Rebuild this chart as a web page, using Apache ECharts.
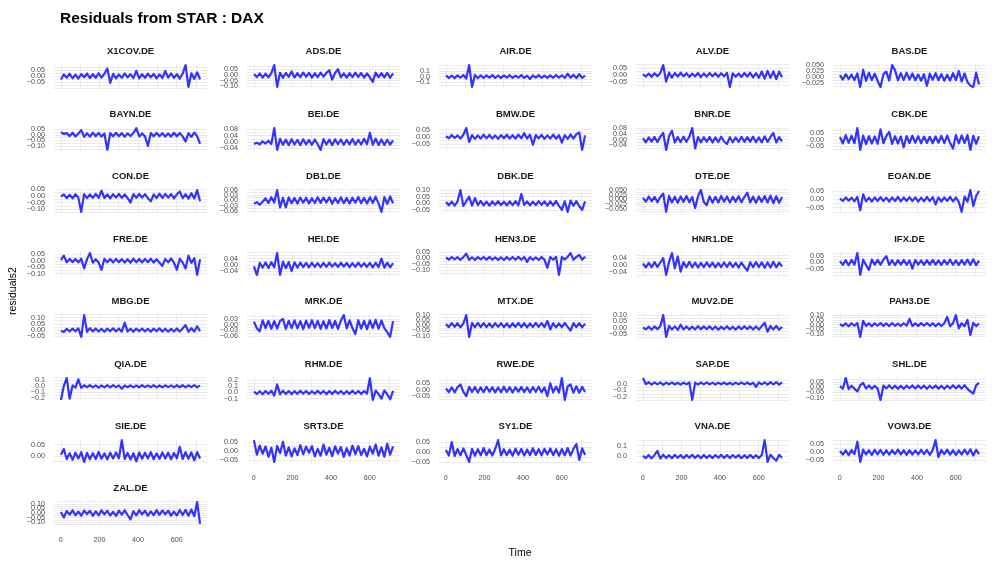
<!DOCTYPE html>
<html>
<head>
<meta charset="utf-8">
<style>
  html, body { margin: 0; padding: 0; background: #fff; }
  #chart { width: 997px; height: 570px; }
</style>
<script src="https://cdn.jsdelivr.net/npm/echarts@6/dist/echarts.min.js"></script>
</head>
<body>
<div id="chart"></div>
<script>
// facet labels, in panel order (5 per row)
const tickers = ["X1COV.DE","ADS.DE","AIR.DE","ALV.DE","BAS.DE","BAYN.DE","BEI.DE","BMW.DE","BNR.DE","CBK.DE",
  "CON.DE","DB1.DE","DBK.DE","DTE.DE","EOAN.DE","FRE.DE","HEI.DE","HEN3.DE","HNR1.DE","IFX.DE",
  "MBG.DE","MRK.DE","MTX.DE","MUV2.DE","PAH3.DE","QIA.DE","RHM.DE","RWE.DE","SAP.DE","SHL.DE",
  "SIE.DE","SRT3.DE","SY1.DE","VNA.DE","VOW3.DE","ZAL.DE"];

// sampled time index (one point every 15 observations)
const time = [1,16,31,46,61,76,91,106,121,136,151,166,181,196,211,226,241,256,271,286,301,316,331,346,361,
  376,391,406,421,436,451,466,481,496,511,526,541,556,571,586,601,616,631,646,661,676,691,706,721];

const xBreaks = [0, 200, 400, 600];
const xGrid = [0, 100, 200, 300, 400, 500, 600, 700];

// y tick labels shown on each panel (free y scales)
const yBreaks = [
  [-0.05,0,0.05], [-0.10,-0.05,0,0.05], [-0.1,0,0.1], [-0.05,0,0.05], [-0.025,0,0.025,0.05],
  [-0.10,-0.05,0,0.05], [-0.04,0,0.04,0.08], [-0.05,0,0.05], [-0.04,0,0.04,0.08], [-0.05,0,0.05],
  [-0.10,-0.05,0,0.05], [-0.06,-0.03,0,0.03,0.06], [-0.05,0,0.05,0.10], [-0.05,-0.025,0,0.025,0.05], [-0.05,0,0.05],
  [-0.10,-0.05,0,0.05], [-0.04,0,0.04], [-0.10,-0.05,0,0.05], [-0.04,0,0.04], [-0.05,0,0.05],
  [-0.05,0,0.05,0.10], [-0.06,-0.03,0,0.03], [-0.10,-0.05,0,0.05,0.10], [-0.05,0,0.05,0.10], [-0.10,-0.05,0,0.05,0.10],
  [-0.2,-0.1,0,0.1], [-0.1,0,0.1,0.2], [-0.05,0,0.05], [-0.2,-0.1,0], [-0.10,-0.05,0,0.05],
  [0,0.05], [-0.05,0,0.05], [-0.05,0,0.05], [0,0.1], [-0.05,0,0.05],
  [-0.10,-0.05,0,0.05,0.10]
];
const yDigits = [2,2,1,2,3, 2,2,2,2,2, 2,2,2,3,2, 2,2,2,2,2, 2,2,2,2,2, 1,1,2,1,2, 2,2,2,1,2, 2];

// residuals, one array per stock
const rX1COV = [-.030,.012,-.015,.018,-.020,.010,-.022, .015,-.012,.020,-.018,.014,-.016,.022,
  -.014,.018,.062,-.058,.016,-.020,.012, -.017,.021,-.013,.015,-.019,.042,-.021,
  .014,-.016,.019,-.012,.017,-.020,.013, -.018,.041,-.015,.020,-.017,.014,-.022,
  .018,.090,-.092,.021,-.025,.030,-.028];
const rADS = [.010,-.018,.015,-.022,.012,-.020,.016, .088,-.105,.020,-.024,.018,-.016,.032,
  -.021,.017,-.019,.022,-.015,.020,-.023, .016,-.018,.021,-.014,.019,.042,-.040,
  .018,.052,-.020,.015,-.022,.017,-.019, .021,-.016,.018,-.023,.014,-.020,-.060,
  .022,-.018,.016,-.021,.019,-.024,.015];
const rAIR = [.020,-.025,.018,-.030,.022,-.020,.028, -.035,.200,-.180,.030,-.028,.022,-.025,
  .020,-.018,.025,-.022,.019,-.026,.021, -.017,.024,-.023,.018,-.020,.026,-.024,
  .017,-.045,.022,-.019,.025,-.021,.018, -.024,.020,-.022,.028,-.018,.023,-.026,
  .050,-.020,.032,-.025,.040,-.022,.018];
const rALV = [.005,-.012,.010,-.014,.012,-.010,.015, .072,-.050,.018,-.020,.014,-.012,.016,
  -.011,.013,-.015,.010,-.012,.014,-.016, .011,-.013,.015,-.010,.012,-.014,.013,
  -.011,.015,-.088,.012,-.013,.010,-.015, .014,-.012,.016,-.018,.013,-.020,.025,
  -.028,.030,-.022,.026,-.030,.024,-.018];
const rBAS = [.008,-.010,.012,-.008,.010,-.012,.015, -.040,.030,-.015,.018,-.012,.014,-.016,
  -.040,.012,.022,-.014,.049,.028,-.013, .016,-.012,.018,-.010,.015,-.013,.011,
  -.015,.012,-.035,.014,-.011,.016,-.013, .012,-.015,.010,-.014,.016,-.012,.025,
  -.018,.015,-.020,-.035,-.040,.018,-.030];
const rBAYN = [.022,.008,.015,-.012,.018,-.015,.012, .042,-.018,.014,-.016,.020,-.013,.017,
  -.015,.012,-.135,.016,-.014,.018,-.012, .015,-.017,.013,-.011,.016,.060,-.015,
  .012,-.014,-.100,.015,-.012,.017,-.013, .014,-.016,.012,-.015,.018,-.013,.016,
  -.014,-.060,.015,-.018,.020,-.012,-.080];
const rBEI = [-.012,-.005,-.015,.004,-.010,.008,-.012, .088,-.050,.020,-.018,.015,-.020,.018,
  -.016,.014,-.019,.017,-.015,.013,-.018, .016,-.014,-.050,.018,-.016,.015,-.020,
  .017,-.013,.016,-.018,.014,-.015,.019, -.017,.013,-.016,.020,-.014,.058,-.018,
  .022,-.020,.016,-.019,.014,-.017,.010];
const rBMW = [.005,-.010,.012,-.008,.010,-.012,.014, .060,-.035,.012,-.014,.010,-.013,.015,
  -.011,.013,-.012,.010,-.014,.012,-.010, .014,-.012,.011,-.013,.015,-.010,.025,
  -.012,.014,-.055,.012,-.011,.013,-.014, .010,-.012,.015,-.013,.011,-.040,.012,
  -.014,.016,-.012,.018,.030,-.090,.010];
const rBNR = [.010,-.018,.015,-.014,.018,-.016,.020, .045,-.070,.022,.060,-.020,.018,-.017,
  .020,-.015,.019,.078,-.060,.017,-.019, .016,-.014,.018,-.020,.015,-.017,.019,
  -.013,-.030,.016,-.018,.014,-.016,.019, -.015,.017,-.014,.020,-.018,.015,-.019,
  .022,-.016,.018,.045,-.020,.017,-.012];
const rCBK = [.020,-.030,.035,-.025,.030,-.028,.090, -.080,.032,-.035,.028,-.030,.025,-.032,
  .080,-.028,.030,.060,-.033,.027,-.030, .025,-.060,.028,-.026,.031,-.024,.027,
  -.029,.024,-.026,.022,-.028,.025,-.024, .030,-.027,.032,-.025,-.070,.035,-.030,
  .033,-.028,.036,-.080,.030,-.032,.026];
const rCON = [-.005,.012,-.015,.010,-.018,.014,-.012, -.120,.015,-.016,.012,-.014,.017,-.013,
  .040,-.015,.013,-.017,.014,-.012,.016, -.014,.012,-.016,-.050,.015,-.013,.017,
  -.012,.014,-.016,-.040,.013,-.015,.018, -.014,.016,-.012,.015,-.017,.013,.035,
  -.016,.014,-.020,.022,-.018,.045,-.040];
const rDB1 = [-.020,-.010,-.025,-.008,.012,-.015,.018, -.012,.058,-.040,.015,-.040,.017,-.016,
  .014,-.018,.016,-.013,.015,-.017,.012, -.015,.018,-.014,.016,-.012,.017,-.019,
  .013,-.015,.018,-.016,.014,-.017,.015, -.013,.019,-.016,.014,-.018,.017,-.015,
  .020,-.018,-.065,.018,-.020,.022,-.016];
const rDBK = [.010,-.015,.012,-.018,.015,.100,-.020, .016,.050,-.017,.040,-.014,.018,-.015,
  .013,-.017,.015,-.012,.016,-.014,.012, -.016,.014,-.013,.017,-.015,.070,-.012,
  .015,-.016,.013,-.014,.017,-.012,.015, -.017,.014,-.016,.018,-.020,-.050,.015,
  -.065,.020,-.018,.016,-.022,-.050,.014];
const rDTE = [.008,-.012,.015,-.010,.013,-.015,.012, .030,-.065,.018,-.016,.014,-.018,.015,
  -.013,.017,-.015,.012,-.045,.016,.048, -.014,-.030,.015,-.017,.013,-.016,.018,
  -.012,.015,-.017,.014,-.013,.016,-.015, .012,.035,-.016,.014,-.018,.015,-.013,
  .017,-.016,.019,-.020,.016,-.018,.012];
const rEOAN = [.005,-.010,.012,-.008,.010,-.012,.014, -.065,.030,-.012,.010,-.014,.012,-.010,
  .013,-.011,.010,-.013,.012,-.010,.014, -.012,.011,-.010,.013,-.011,.012,-.014,
  .010,-.012,.014,-.011,.013,-.030,.011, -.013,.012,-.010,.014,-.012,.011,-.015,
  -.075,.016,-.014,.055,-.040,.020,.050];
const rFRE = [.005,.040,-.012,.015,-.010,.014,-.012, .016,-.060,.013,.060,-.015,.012,-.014,
  -.070,.016,-.012,.014,-.013,.015,-.011, .013,-.014,.012,-.015,.016,-.012,.014,
  -.013,.015,-.011,.017,-.014,.012,-.016, -.040,.015,-.012,.018,-.014,-.070,.016,
  -.015,-.060,.040,-.016,.020,-.110,.012];
const rHEI = [-.010,-.065,.012,-.018,.015,-.020,.017, -.016,.075,-.065,.020,-.022,.018,-.040,
  .016,-.018,.014,-.015,.012,-.016,.013, -.014,.011,-.015,.012,-.013,.014,-.012,
  .010,-.014,.013,-.011,.012,-.015,.011, -.013,.014,-.012,.010,-.014,.012,-.016,
  .013,-.015,.040,-.018,.014,-.016,.010];
const rHEN3 = [.008,-.010,.012,-.008,.010,-.012,.011, .040,-.012,.010,-.013,.011,-.009,.012,
  -.010,.013,-.011,.009,-.012,.010,-.013, .011,-.010,.012,-.011,.013,-.010,.012,
  -.030,.011,-.012,.010,-.013,.012,-.010, -.080,.012,-.011,.013,-.140,.012,-.010,
  .014,.045,-.012,.013,.030,-.011,.015];
const rHNR1 = [.008,-.015,.012,-.014,.016,-.012,.014, .040,-.060,.018,.070,-.020,.050,-.040,
  .016,-.014,.018,-.015,.013,-.016,.012, -.014,.015,-.012,.013,-.015,.011,-.013,
  .014,-.012,.015,-.013,.012,-.016,.014, -.012,-.035,.015,-.014,.016,-.013,.015,
  -.017,.014,-.016,.018,-.015,.013,-.010];
const rIFX = [.010,-.020,.018,-.022,.020,-.018,.075, -.100,.022,-.020,-.060,.024,-.018,.021,
  -.019,.023,.050,-.020,.018,-.022,.019, -.017,.021,-.019,.017,-.050,.020,-.018,
  .016,-.020,.019,-.017,.021,-.018,.016, -.020,.018,-.016,.022,-.019,.017,-.021,
  .019,-.018,.023,-.020,.026,-.022,.015];
const rMBG = [-.005,-.015,.010,-.012,.012,-.010,.014, -.055,.120,-.014,.015,-.011,.013,-.012,
  .010,-.013,.012,-.010,.014,-.011,.012, -.013,.060,-.012,.011,-.014,.012,-.010,
  .013,-.011,.010,-.013,.012,-.010,.014, -.012,.011,-.013,.010,-.012,.013,-.011,
  .012,.040,-.014,.015,-.012,.030,-.010];
const rMRK = [.015,-.020,-.035,.022,-.018,.020,-.022, .018,-.021,.019,.030,-.023,.020,-.019,
  .022,-.020,.018,-.024,.021,-.017,.023, -.019,.020,-.022,.018,-.021,.024,-.018,
  .019,-.023,.021,.050,-.020,.022,-.019, -.050,.023,-.021,.020,-.024,.022,-.018,
  .025,-.022,.021,-.019,-.040,-.065,.018];
const rMTX = [.010,-.018,.020,-.015,.018,-.020,.016, .095,-.110,.022,-.019,.021,-.017,.020,
  -.018,.016,-.021,.019,-.016,.020,-.018, .017,-.020,.018,-.015,.021,-.017,.019,
  -.020,.016,-.018,.022,-.016,.019,-.017, .040,-.040,.018,-.020,.017,-.019,.021,
  -.016,-.050,.020,-.018,.019,-.021,.015];
const rMUV2 = [.005,-.012,.010,-.014,.012,-.010,.014, .100,-.070,.016,-.013,.012,-.015,.025,
  -.012,.011,-.013,.010,-.012,.014,-.011, .012,-.010,.013,-.012,.011,-.014,.010,
  -.011,.013,-.012,.010,-.014,.012,-.011, .013,-.010,.012,-.013,.011,-.012,.014,
  .040,-.030,.015,-.012,.016,-.014,.010];
const rPAH3 = [.005,-.015,.012,-.018,.014,-.012,.016, -.130,.040,-.015,.013,-.017,.014,-.012,
  .016,-.014,.012,-.016,.015,-.013,.011, -.015,.014,-.012,.060,-.016,.013,-.014,
  .015,-.012,.016,-.013,.014,-.017,.012, -.015,.014,.080,-.016,.013,.100,-.040,
  .015,-.018,.050,-.110,.018,-.016,.012];
const rQIA = [-.230,.010,.140,-.210,.015,-.020,.120, -.025,.018,-.015,.020,-.018,.016,-.022,
  .015,-.017,.019,-.016,.022,-.014,.017, -.040,.016,-.015,.018,-.017,.014,-.016,
  .019,-.013,.017,-.015,.020,-.018,.015, -.016,.018,-.014,.016,-.017,.019,-.015,
  .020,-.016,.018,-.014,.022,-.017,.016];
const rRHM = [.015,-.025,.020,-.028,.022,-.020,.025, -.050,.130,-.030,.028,-.025,.022,-.027,
  .020,-.023,.026,-.021,.024,-.026,.019, -.022,.025,-.020,.023,-.027,.021,-.024,
  .026,-.019,.022,-.025,.020,-.023,.027, -.021,.024,-.026,.022,-.020,.230,-.120,
  .030,-.028,-.100,.032,-.030,-.110,.025];
const rRWE = [.010,-.020,.018,-.022,.020,.040,-.018, -.050,.022,-.019,.021,-.023,.018,-.020,
  .022,-.017,.019,-.021,.017,-.020,.023, -.018,.020,-.022,.019,-.016,.021,-.019,
  .018,-.022,.020,-.017,.023,-.020,.018, -.050,.050,-.021,.024,-.022,.090,-.080,
  .025,.040,-.023,.026,-.025,.022,-.018];
const rSAP = [.080,-.010,.020,-.015,.018,-.012,.016, -.018,.015,-.013,.017,-.014,.012,-.016,
  .015,-.012,.018,-.240,.014,-.015,.017, -.013,.016,-.012,.014,-.017,.013,-.011,
  .015,-.014,.012,-.016,.014,-.013,.017, -.012,.015,-.014,.012,-.050,.016,-.013,
  .018,-.015,.020,-.014,.022,-.016,.018];
const rSHL = [.010,-.015,.085,-.018,.012,-.014,-.040, .016,.040,-.013,.015,-.016,.012,-.014,
  -.120,.015,-.012,.017,-.014,.013,-.016, .012,-.015,.014,-.011,.016,-.013,.015,
  -.012,.014,-.016,.013,-.011,.015,-.014, .012,-.016,.014,-.013,.017,-.012,.015,
  -.014,.018,-.016,-.040,-.060,.016,.040];
const rSIE = [.005,.030,-.015,.012,-.018,.014,-.012, .016,-.027,.013,-.015,.012,-.014,.017,
  -.013,.011,-.016,.014,-.012,.015,-.011, .070,-.014,.013,-.016,.012,-.025,.015,
  -.013,.014,-.012,.016,-.015,.011,-.013, .015,-.012,.014,-.016,.013,-.011,.040,
  -.014,.016,-.013,.015,-.020,.017,-.012];
const rSRT3 = [.060,-.020,.030,-.015,.025,-.032,.018, -.060,.028,-.012,.050,-.025,.020,-.030,
  .015,-.022,.032,-.018,.024,-.010,.027, -.030,.012,-.026,.035,-.020,.018,-.028,
  .026,-.014,.022,-.033,.016,-.025,.030, -.018,.027,-.022,.012,-.030,.024,-.015,
  .035,-.026,.020,-.032,.040,-.020,.025];
const rSY1 = [.010,-.018,.050,-.020,.015,-.017,.018, -.015,-.050,.016,-.019,.014,-.017,.020,
  -.016,.013,-.018,.015,.060,-.017,.014, -.016,.012,-.019,.017,-.014,.015,-.018,
  .013,-.016,.019,-.015,.014,-.017,.016, -.013,.018,-.016,.014,-.019,.015,-.017,
  .020,-.018,.016,.040,-.040,.018,-.015];
const rVNA = [.005,-.015,.012,-.018,.014,.050,-.020, .016,-.014,.012,-.017,.015,-.012,.014,
  -.016,.013,-.011,.015,-.014,.012,-.016, .014,-.013,.011,-.015,.013,-.012,.016,
  -.014,.012,-.015,.013,-.011,.014,-.016, .012,-.014,.015,-.013,.011,-.015,.014,
  .150,-.050,.016,-.014,-.040,.015,-.012];
const rVOW3 = [.008,-.015,.012,-.018,.014,-.012,.065, -.060,.016,-.014,.012,-.017,.015,-.013,
  .014,-.016,.012,-.015,.013,-.011,.016, -.014,.012,-.016,.013,-.015,.011,-.013,
  .015,-.012,.014,-.016,.013,.075,-.030, .014,-.012,.016,-.015,.013,-.017,.012,
  -.014,.016,-.013,.018,-.020,.015,-.012];
const rZAL = [.010,-.050,.022,-.018,.030,-.025,.015, -.030,.028,-.012,.024,-.031,.018,-.026,
  .030,-.015,.025,-.028,.012,-.032,.026, -.018,.030,-.022,-.070,.020,-.026,.031,
  -.015,.025,-.030,.018,-.024,.032,-.020, .028,-.016,.026,-.029,.014,-.027,.033,
  -.022,.035,-.030,.038,-.035,.120,-.120];

const residuals = [rX1COV, rADS, rAIR, rALV, rBAS, rBAYN, rBEI, rBMW, rBNR, rCBK,
  rCON, rDB1, rDBK, rDTE, rEOAN, rFRE, rHEI, rHEN3, rHNR1, rIFX,
  rMBG, rMRK, rMTX, rMUV2, rPAH3, rQIA, rRHM, rRWE, rSAP, rSHL,
  rSIE, rSRT3, rSY1, rVNA, rVOW3, rZAL];

// panel layout (px)
const colLeft = [54, 247, 439, 636, 833];
const rowTop = [64, 127, 189, 252, 314, 377, 439, 501];
const panelW = 153, panelH = 24;
const FONT = '"Liberation Sans", Arial, sans-serif';
const GRID_COL = "#ebebeb";

const grids = [], xAxes = [], yAxes = [], series = [], graphics = [];

function fmt(v, d) {
  const s = Math.abs(v).toFixed(d);
  return (v < -1e-9 ? "\u2212" : "") + s;
}

tickers.forEach((name, i) => {
  const r = Math.floor(i / 5), c = i % 5;
  const vals = residuals[i];
  const lo = Math.min(...vals), hi = Math.max(...vals);
  const pad = (hi - lo) * 0.05;
  const ymin = lo - pad, ymax = hi + pad;

  // ggplot-like major + minor grid
  const br = yBreaks[i];
  const step = br.length > 1 ? br[1] - br[0] : 0.05;
  const gridVals = [];
  for (let k = -1; k <= br.length; k++) {
    const v = br[0] + k * step;
    const m = v + step / 2;
    if (v >= ymin && v <= ymax) gridVals.push(+v.toFixed(6));
    if (m >= ymin && m <= ymax) gridVals.push(+m.toFixed(6));
  }

  const showX = r === 7 || (r === 6 && c > 0);

  grids.push({ left: colLeft[c], top: rowTop[r], width: panelW, height: panelH, containLabel: false });

  xAxes.push({
    type: "value", gridIndex: i, min: -35, max: 757,
    axisLine: { show: false },
    axisTick: { show: false, customValues: xGrid },
    splitLine: { show: true, lineStyle: { color: GRID_COL, width: 1 } },
    axisLabel: {
      show: showX, customValues: xBreaks, fontSize: 7.2, color: "#4d4d4d", margin: 12, fontFamily: FONT,
      hideOverlap: false, showMinLabel: true, showMaxLabel: true
    }
  });

  // y labels are drawn below as texts so that crowded ones are all kept
  yAxes.push({
    type: "value", gridIndex: i, min: ymin, max: ymax,
    axisLine: { show: false },
    axisTick: { show: false, customValues: gridVals },
    splitLine: { show: true, lineStyle: { color: GRID_COL, width: 1 } },
    axisLabel: { show: false }
  });

  series.push({
    type: "line", xAxisIndex: i, yAxisIndex: i,
    data: vals.map((v, k) => [time[k], v]).filter(p => p[0] !== undefined),
    showSymbol: false, silent: true,
    lineStyle: { color: "#3333ff", width: 2.2, join: "round" }
  });

  graphics.push({
    type: "text", x: colLeft[c] + panelW / 2, y: rowTop[r] - 13,
    style: { text: name, font: "bold 9.5px " + FONT, fill: "#1a1a1a", textAlign: "center", textVerticalAlign: "middle" }
  });
});

graphics.push({
  type: "text", x: 520, y: 553,
  style: { text: "Time", font: "10.5px " + FONT, fill: "#000", textAlign: "center", textVerticalAlign: "middle" }
});
graphics.push({
  type: "text", x: 13, y: 291, rotation: Math.PI / 2,
  style: { text: "residuals2", font: "10.5px " + FONT, fill: "#000", textAlign: "center", textVerticalAlign: "middle" }
});

const chart = echarts.init(document.getElementById("chart"));
chart.setOption({
  animation: false,
  backgroundColor: "#ffffff",
  title: {
    text: "Residuals from STAR : DAX", left: 55, top: 6,
    textStyle: { fontSize: 15.5, fontWeight: "bold", color: "#000", fontFamily: FONT }
  },
  grid: grids,
  xAxis: xAxes,
  yAxis: yAxes,
  series: series,
  graphic: graphics
});

// y tick labels placed with each panel's own y scale
const yLabels = [];
tickers.forEach((name, i) => {
  const c = i % 5;
  yBreaks[i].forEach(v => {
    const py = chart.convertToPixel({ yAxisIndex: i }, v);
    yLabels.push({
      type: "text", x: colLeft[c] - 9, y: py,
      style: { text: fmt(v, yDigits[i]), font: "7.2px " + FONT, fill: "#4d4d4d", textAlign: "right", textVerticalAlign: "middle" }
    });
  });
});
chart.setOption({ graphic: graphics.concat(yLabels) });
</script>
</body>
</html>
